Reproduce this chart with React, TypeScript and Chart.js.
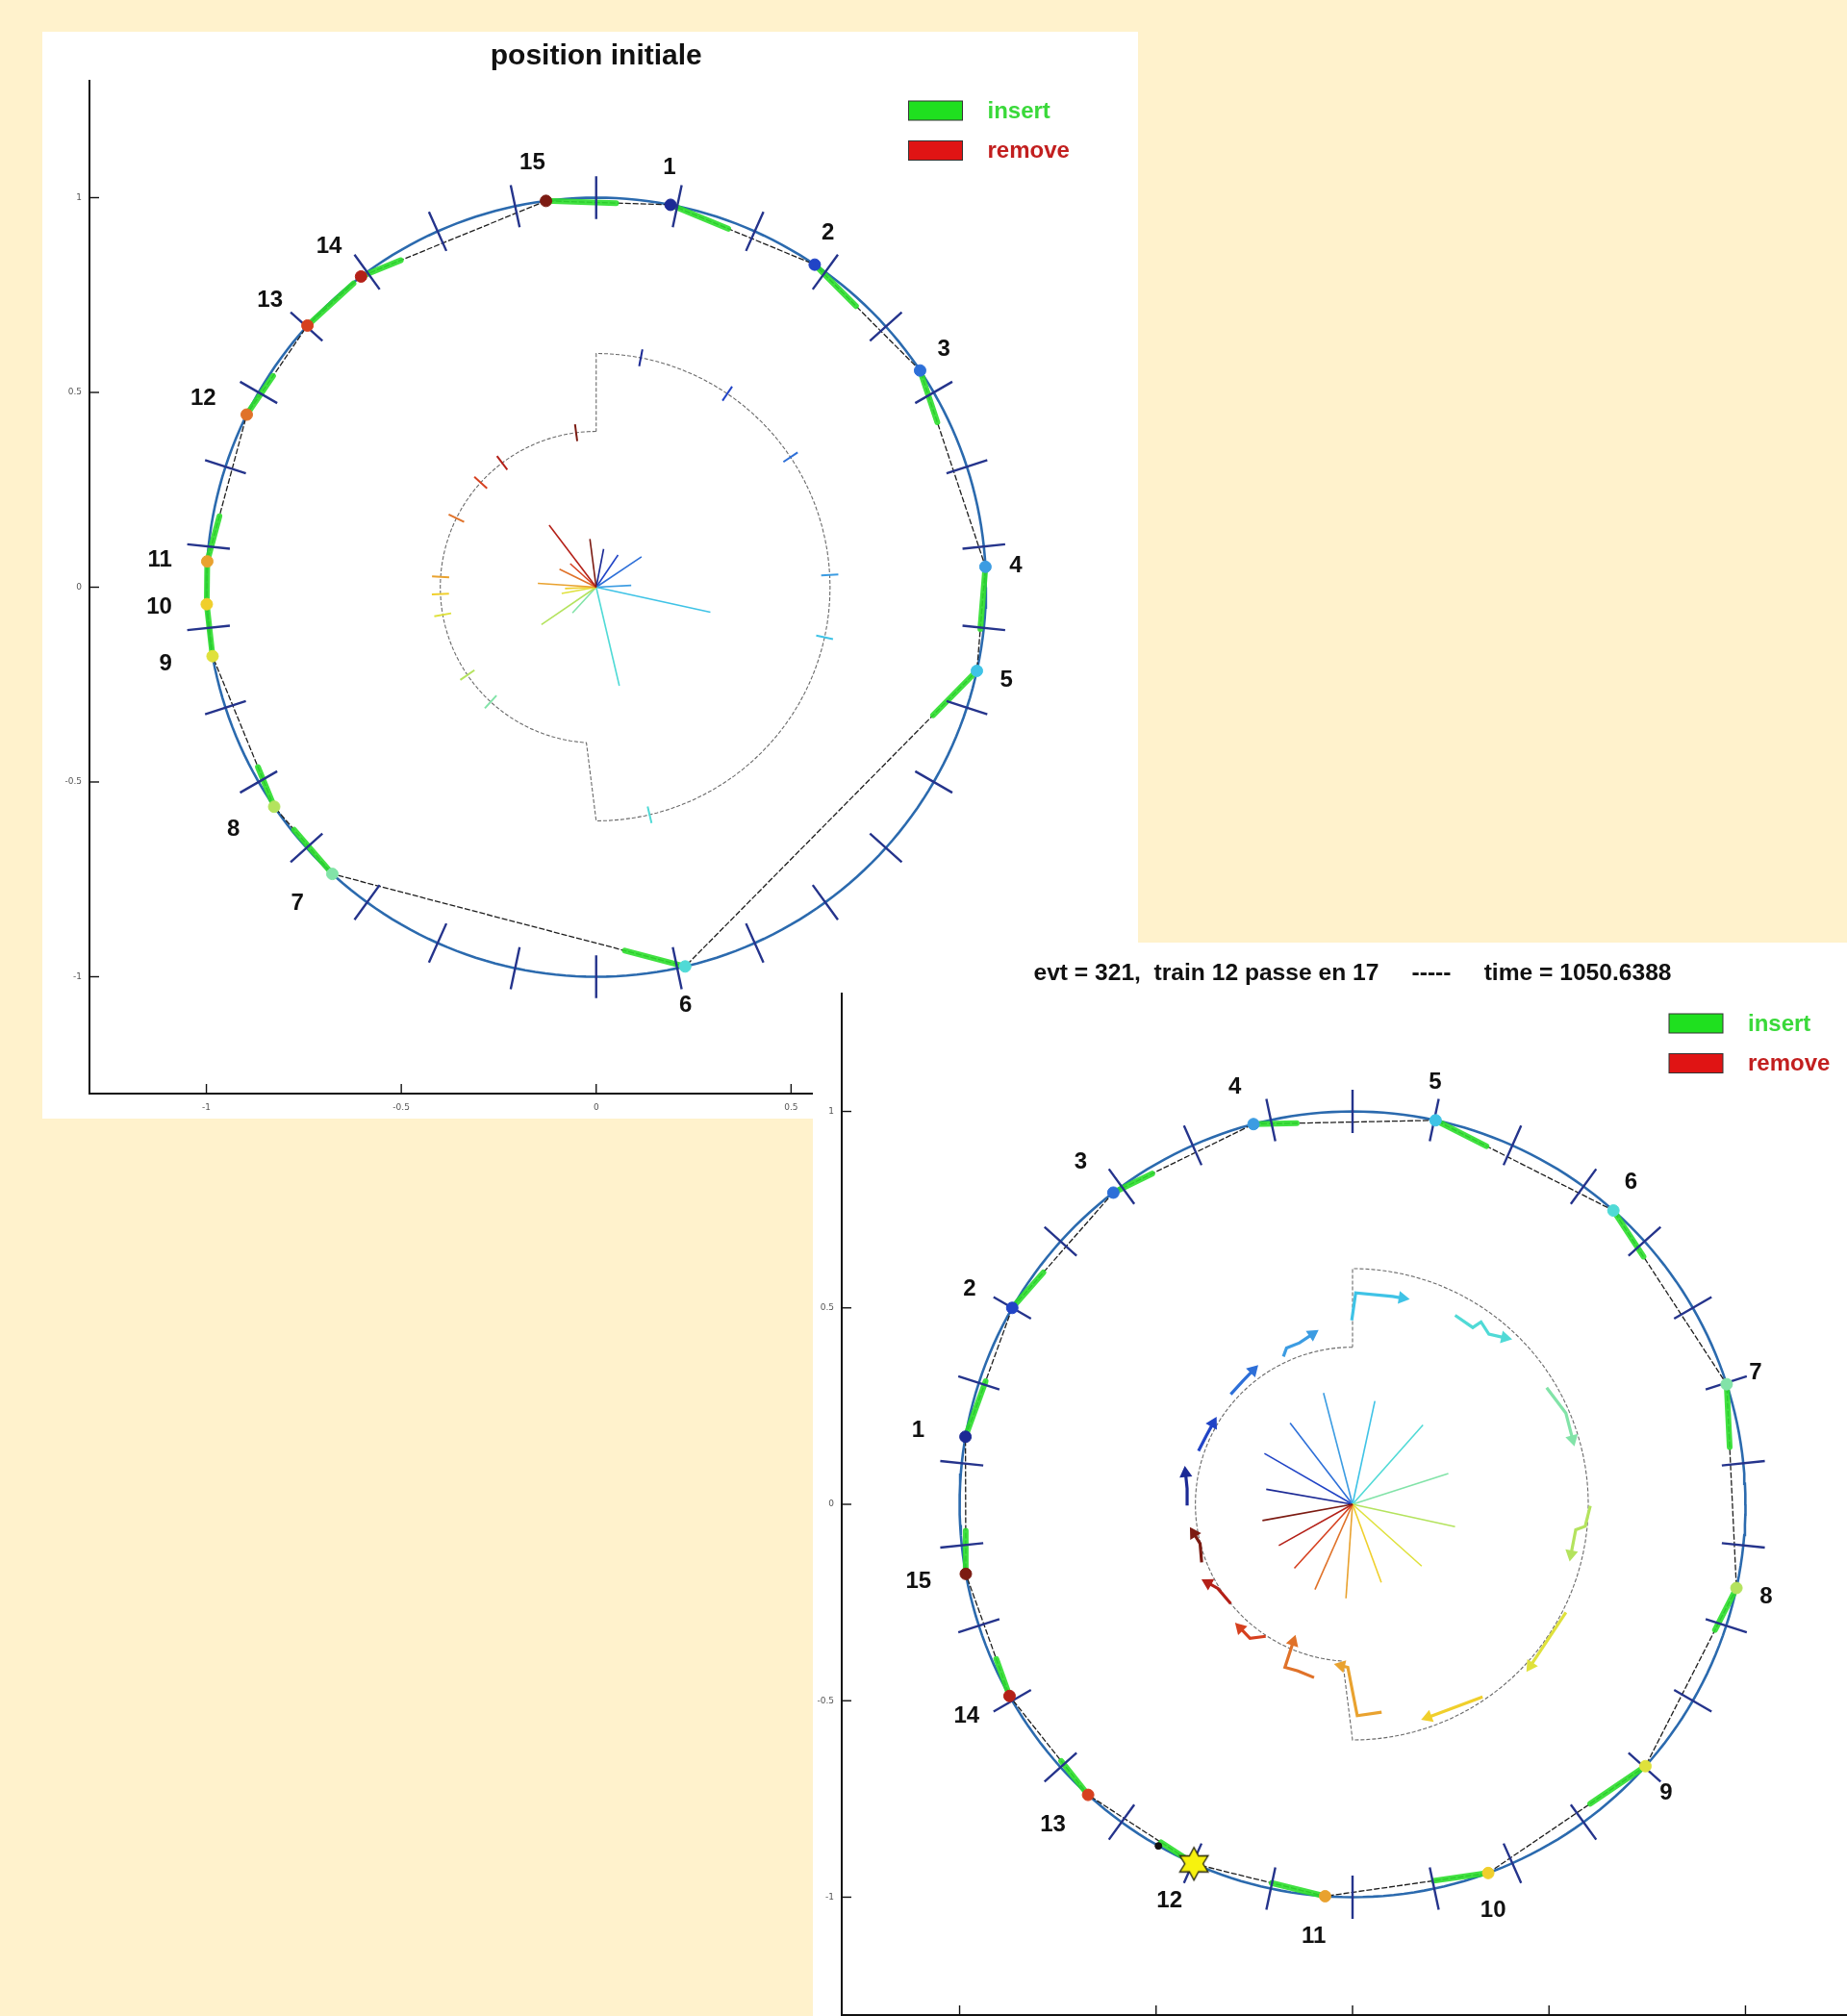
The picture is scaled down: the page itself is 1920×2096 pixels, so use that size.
import React, { useEffect, useRef } from "react";
import { Chart, registerables } from "chart.js";

Chart.register(...registerables);

// ---------------- shared data ----------------
const trainLabels = ["1", "2", "3", "4", "5", "6", "7", "8", "9", "10", "11", "12", "13", "14", "15"];
const trainColors = [
  "#1c2a95", "#2144c6", "#2d6fd8", "#3c9ce2", "#3fc3e6", "#50dad6", "#82e3a8", "#b4e35e",
  "#dfe13c", "#f0cf2c", "#e9a22f", "#e07229", "#d6401f", "#b42018", "#7c1b12",
];
// block boundaries of the track (degrees)
const trackTickAngles = [6, 18, 30, 42, 54, 66, 78, 90, 102, 114, 126, 138, 150, 162, 174, 186, 198, 210, 222, 234, 246, 258, 270, 282, 294, 306, 318, 330, 342, 354];
const axisTickValues = [-1, -0.5, 0, 0.5, 1];
const legendLabels = ["insert", "remove"];
const legendFill = ["#1fe01f", "#e01414"];
const legendText = ["#3ad93a", "#c21f1f"];

// ---------------- panel 1 : position initiale ----------------
const p1Title = "position initiale";
const p1TrainAngles = [79, 55.9, 33.8, 3, -12.4, -76.8, -132.6, -145.7, -169.8, -177.5, 176.2, 153.7, 137.8, 127.1, 97.4];
const p1InsertLengths = [0.16, 0.15, 0.14, 0.16, 0.16, 0.16, 0.15, 0.11, 0.14, 0.11, 0.12, 0.12, 0.16, 0.11, 0.18];
const p1SpokeLengths = [0.1, 0.1, 0.14, 0.09, 0.3, 0.26, 0.09, 0.17, 0.09, 0.08, 0.15, 0.105, 0.09, 0.2, 0.125];

// ---------------- panel 2 : event 321 ----------------
const p2Title = "evt = 321,  train 12 passe en 17     -----     time = 1050.6388";
const p2TrainAngles = [170.1, 150, 127.5, 104.6, 77.8, 48.4, 17.8, -12.3, -41.8, -69.8, -94, -113.8, -132.3, -150.8, -169.8];
const p2InsertLengths = [0.15, 0.12, 0.11, 0.11, 0.145, 0.14, 0.16, 0.12, 0.17, 0.14, 0.14, 0.1, 0.11, 0.1, 0.11];
const p2SpokeLengths = [0.223, 0.259, 0.261, 0.293, 0.269, 0.27, 0.256, 0.267, 0.236, 0.212, 0.24, 0.237, 0.22, 0.215, 0.233];
const p2EventTrain = 12;
const p2PassAngle = 240.4;
const p2TrajX = [
  [-0.421, -0.421, -0.425],
  [-0.392, -0.372, -0.355],
  [-0.31, -0.28, -0.253],
  [-0.176, -0.168, -0.135, -0.102],
  [-0.002, 0.008, 0.102, 0.127],
  [0.261, 0.306, 0.327, 0.347, 0.388],
  [0.494, 0.543, 0.56],
  [0.605, 0.592, 0.568, 0.556],
  [0.543, 0.453],
  [0.331, 0.192],
  [0.074, 0.012, -0.012, -0.029],
  [-0.098, -0.139, -0.172, -0.151],
  [-0.221, -0.261, -0.286],
  [-0.31, -0.343, -0.368],
  [-0.384, -0.388, -0.404],
];
const p2TrajY = [
  [-0.003, 0.04, 0.079],
  [0.136, 0.175, 0.206],
  [0.28, 0.313, 0.341],
  [0.376, 0.398, 0.411, 0.433],
  [0.468, 0.538, 0.529, 0.525],
  [0.481, 0.45, 0.464, 0.433, 0.424],
  [0.297, 0.232, 0.166],
  [-0.004, -0.056, -0.065, -0.127],
  [-0.275, -0.411],
  [-0.49, -0.542],
  [-0.529, -0.538, -0.415, -0.411],
  [-0.441, -0.424, -0.415, -0.35],
  [-0.336, -0.341, -0.315],
  [-0.253, -0.214, -0.2],
  [-0.148, -0.1, -0.074],
];

// ---------------- geometry helpers ----------------
const FONT = '"Liberation Sans", Arial, Helvetica, sans-serif';
const rad = (d: number) => (d * Math.PI) / 180;
type P = { x: number; y: number };
const polar = (r: number, deg: number): P => ({ x: r * Math.cos(rad(deg)), y: r * Math.sin(rad(deg)) });
const GAP: P = { x: NaN, y: NaN };
function arc(r: number, a0: number, a1: number, step = 2): P[] {
  const n = Math.max(2, Math.ceil(Math.abs(a1 - a0) / step));
  const pts: P[] = [];
  for (let i = 0; i <= n; i++) pts.push(polar(r, a0 + ((a1 - a0) * i) / n));
  return pts;
}

type PanelCfg = {
  left: number; top: number; boxW: number; boxH: number;
  canvasW: number; canvasH: number;
  pad: { left: number; top: number; right: number; bottom: number };
  yAxisW: number; xAxisH: number; yLabelPad: number; xLabelPad: number;
  title: string; titleSize: number; titleOffset: number;
  angles: number[]; insertLengths: number[]; spokeLengths: number[];
  innerMarks: boolean;
  starTrain?: number; passAngle?: number;
  trajX?: number[][]; trajY?: number[][];
  z: number;
};

function makeStar(): HTMLCanvasElement {
  const c = document.createElement("canvas");
  c.width = 38; c.height = 38;
  const g = c.getContext("2d")!;
  g.beginPath();
  for (let i = 0; i < 12; i++) {
    const r = i % 2 === 0 ? 17 : 9.5;
    const a = rad(90 + i * 30);
    const x = 19 + r * Math.cos(a), y = 19 - r * Math.sin(a);
    if (i === 0) g.moveTo(x, y); else g.lineTo(x, y);
  }
  g.closePath();
  g.fillStyle = "#f7f20e";
  g.fill();
  g.lineWidth = 1.4;
  g.strokeStyle = "#2a2a10";
  g.stroke();
  return c;
}

function buildDatasets(cfg: PanelCfg): any[] {
  const n = cfg.angles.length;
  const trainPts = cfg.angles.map((a) => polar(1, a));
  const ds: any[] = [];
  const base = { pointRadius: 0, pointHoverRadius: 0, pointHitRadius: 0, spanGaps: false, fill: false, tension: 0 };

  if (cfg.starTrain) {
    ds.push({ ...base, label: "event", data: [trainPts[cfg.starTrain - 1]], showLine: false, pointRadius: 17, pointStyle: makeStar() });
  }
  if (cfg.passAngle !== undefined) {
    ds.push({ ...base, label: "pass", data: [polar(1, cfg.passAngle)], showLine: false, pointRadius: 3.5, pointBackgroundColor: "#111", pointBorderColor: "#111" });
  }
  // trains
  ds.push({
    ...base, label: "trains", data: trainPts, showLine: false,
    pointRadius: trainPts.map((_, k) => (cfg.starTrain === k + 1 ? 0 : 6)),
    pointBackgroundColor: trainColors, pointBorderColor: trainColors, pointBorderWidth: 1,
  });
  // track block ticks
  const tickPts: P[] = [];
  trackTickAngles.forEach((a) => tickPts.push(polar(0.945, a), polar(1.055, a), GAP));
  ds.push({ ...base, label: "blocks", data: tickPts, borderColor: "#25348c", borderWidth: 2.4 });
  // insert segments (from each train toward the next one)
  const ins: P[] = [];
  trainPts.forEach((p0, k) => {
    const p1 = trainPts[(k + 1) % n];
    const d = Math.hypot(p1.x - p0.x, p1.y - p0.y);
    const f = Math.min(1, cfg.insertLengths[k] / d);
    ins.push(p0, { x: p0.x + (p1.x - p0.x) * f, y: p0.y + (p1.y - p0.y) * f }, GAP);
  });
  ds.push({ ...base, label: "insert", data: ins, borderColor: "rgba(44,222,44,0.9)", borderWidth: 6, borderCapStyle: "round" });
  // chords between consecutive trains
  ds.push({ ...base, label: "chain", data: [...trainPts, trainPts[0]], borderColor: "#1e1e1e", borderWidth: 1.3, borderDash: [6, 2] });
  // track
  ds.push({ ...base, label: "track", data: arc(1, 0, 360, 1.5), borderColor: "#2b6aae", borderWidth: 2.6 });

  // trajectories
  if (cfg.trajX && cfg.trajY) {
    const pts: P[] = [];
    const segColor: string[] = [];
    const pr: number[] = [];
    const rot: number[] = [];
    const pc: string[] = [];
    cfg.trajX.forEach((xs, k) => {
      const ys = cfg.trajY![k];
      xs.forEach((x, i) => {
        pts.push({ x, y: ys[i] });
        segColor.push(trainColors[k]);
        const last = i === xs.length - 1;
        pr.push(last ? 4.5 : 0);
        const dx = last ? x - xs[i - 1] : 0;
        const dy = last ? ys[i] - ys[i - 1] : 1;
        rot.push((Math.atan2(dx, dy) * 180) / Math.PI);
        pc.push(trainColors[k]);
      });
      pts.push(GAP); segColor.push(trainColors[k]); pr.push(0); rot.push(0); pc.push(trainColors[k]);
    });
    ds.push({
      ...base, label: "traj", data: pts, borderWidth: 3.2, borderColor: "#888",
      segment: { borderColor: (c: any) => segColor[c.p0DataIndex] },
      pointRadius: pr, pointStyle: "triangle", pointRotation: rot,
      pointBackgroundColor: pc, pointBorderColor: pc,
    });
  }
  // spokes
  const sp: P[] = [];
  const spCol: string[] = [];
  cfg.angles.forEach((a, k) => {
    sp.push({ x: 0, y: 0 }, polar(cfg.spokeLengths[k], a), GAP);
    spCol.push(trainColors[k], trainColors[k], trainColors[k]);
  });
  ds.push({ ...base, label: "spokes", data: sp, borderWidth: 1.6, borderColor: "#888", segment: { borderColor: (c: any) => spCol[c.p0DataIndex] } });
  // inner marks
  if (cfg.innerMarks) {
    const mk: P[] = [];
    const mkCol: string[] = [];
    cfg.angles.forEach((a, k) => {
      const r = Math.cos(rad(a)) > 0 ? 0.6 : 0.4;
      mk.push(polar(r - 0.022, a), polar(r + 0.022, a), GAP);
      mkCol.push(trainColors[k], trainColors[k], trainColors[k]);
    });
    ds.push({ ...base, label: "marks", data: mk, borderWidth: 2, borderColor: "#555", segment: { borderColor: (c: any) => mkCol[c.p0DataIndex] } });
  }
  // inner outline
  const inner = [...arc(0.4, 90, 266.4, 3), ...arc(0.6, 270, 450, 3)];
  inner.push(inner[0]);
  ds.push({ ...base, label: "inner", data: inner, borderColor: "#6a6a6a", borderWidth: 1.1, borderDash: [4, 2] });
  return ds;
}

function overlayPlugin(cfg: PanelCfg) {
  return {
    id: "overlay",
    afterDatasetsDraw(chart: any) {
      const { ctx, chartArea: ca } = chart;
      const xs = chart.scales.x;
      const ys = chart.scales.y;
      ctx.save();
      // inward axis ticks
      ctx.strokeStyle = "#111";
      ctx.lineWidth = 1.4;
      axisTickValues.forEach((v) => {
        const px = xs.getPixelForValue(v);
        ctx.beginPath(); ctx.moveTo(px, ca.bottom); ctx.lineTo(px, ca.bottom - 10); ctx.stroke();
        const py = ys.getPixelForValue(v);
        ctx.beginPath(); ctx.moveTo(ca.left, py); ctx.lineTo(ca.left + 10, py); ctx.stroke();
      });
      // train labels
      ctx.fillStyle = "#111";
      ctx.font = `bold 24px ${FONT}`;
      ctx.textAlign = "center";
      ctx.textBaseline = "middle";
      cfg.angles.forEach((a, k) => {
        const lx = 1.1 * Math.cos(rad(a)) - 0.022;
        const ly = 1.1 * Math.sin(rad(a));
        ctx.fillText(trainLabels[k], xs.getPixelForValue(lx), ys.getPixelForValue(ly) + 1);
      });
      // title
      ctx.font = `bold ${cfg.titleSize}px ${FONT}`;
      ctx.fillStyle = "#111";
      ctx.fillText(cfg.title, (ca.left + ca.right) / 2, ca.top - cfg.titleOffset);
      // legend
      legendLabels.forEach((lab, i) => {
        const ty = ca.top + 21 + i * 41.5;
        ctx.fillStyle = legendFill[i];
        ctx.fillRect(ca.right - 202, ty, 56, 20);
        ctx.strokeStyle = "#333";
        ctx.lineWidth = 1;
        ctx.strokeRect(ca.right - 202, ty, 56, 20);
        ctx.fillStyle = legendText[i];
        ctx.font = `bold 24px ${FONT}`;
        ctx.textAlign = "left";
        ctx.fillText(lab, ca.right - 120, ty + 11);
        ctx.textAlign = "center";
      });
      ctx.restore();
    },
  };
}

const tickFmt = (v: any) => String(Math.round(Number(v) * 100) / 100);

function Panel({ cfg }: { cfg: PanelCfg }) {
  const ref = useRef<HTMLCanvasElement>(null);
  useEffect(() => {
    const chart = new Chart(ref.current!, {
      type: "line",
      data: { datasets: buildDatasets(cfg) },
      options: {
        animation: false,
        responsive: false,
        devicePixelRatio: 1,
        events: [],
        layout: { padding: cfg.pad },
        plugins: { legend: { display: false }, tooltip: { enabled: false }, title: { display: false } },
        scales: {
          x: {
            type: "linear", min: -1.3, max: 1.3,
            afterBuildTicks: (s: any) => { s.ticks = axisTickValues.map((v) => ({ value: v })); },
            afterFit: (s: any) => { s.height = cfg.xAxisH; },
            grid: { display: false, drawTicks: false },
            border: { display: true, color: "#111", width: 2 },
            ticks: { callback: tickFmt, color: "#555", font: { size: 9, family: '"DejaVu Sans", sans-serif' }, padding: cfg.xLabelPad, maxRotation: 0, autoSkip: false },
          },
          y: {
            type: "linear", min: -1.3, max: 1.3,
            afterBuildTicks: (s: any) => { s.ticks = axisTickValues.map((v) => ({ value: v })); },
            afterFit: (s: any) => { s.width = cfg.yAxisW; },
            grid: { display: false, drawTicks: false },
            border: { display: true, color: "#111", width: 2 },
            ticks: { callback: tickFmt, color: "#555", font: { size: 9, family: '"DejaVu Sans", sans-serif' }, padding: cfg.yLabelPad, autoSkip: false },
          },
        },
      } as any,
      plugins: [overlayPlugin(cfg)],
    });
    return () => chart.destroy();
  }, []);
  return (
    <div style={{ position: "absolute", left: cfg.left, top: cfg.top, width: cfg.boxW, height: cfg.boxH, overflow: "hidden", background: "#ffffff", zIndex: cfg.z }}>
      <canvas ref={ref} width={cfg.canvasW} height={cfg.canvasH} style={{ position: "absolute", left: 0, top: 0, width: cfg.canvasW, height: cfg.canvasH }} />
    </div>
  );
}

const panel1: PanelCfg = {
  left: 44, top: 33, boxW: 1139, boxH: 1130, canvasW: 1139, canvasH: 1130,
  pad: { left: 0, top: 51, right: 36.5, bottom: 0 },
  yAxisW: 49, xAxisH: 26, yLabelPad: 8, xLabelPad: 9,
  title: p1Title, titleSize: 30, titleOffset: 25,
  angles: p1TrainAngles, insertLengths: p1InsertLengths, spokeLengths: p1SpokeLengths,
  innerMarks: true, z: 1,
};

const panel2: PanelCfg = {
  left: 845, top: 980, boxW: 1075, boxH: 1116, canvasW: 1110, canvasH: 1150,
  pad: { left: 0, top: 53, right: 18, bottom: 0 },
  yAxisW: 30, xAxisH: 35, yLabelPad: 8, xLabelPad: 10,
  title: p2Title, titleSize: 24.6, titleOffset: 21,
  angles: p2TrainAngles, insertLengths: p2InsertLengths, spokeLengths: p2SpokeLengths,
  innerMarks: false, starTrain: p2EventTrain, passAngle: p2PassAngle,
  trajX: p2TrajX, trajY: p2TrajY, z: 2,
};

export default function App() {
  return (
    <div style={{ position: "absolute", left: 0, top: 0, width: 1920, height: 2096, background: "#FFF2CC", overflow: "hidden" }}>
      <Panel cfg={panel1} />
      <Panel cfg={panel2} />
    </div>
  );
}
